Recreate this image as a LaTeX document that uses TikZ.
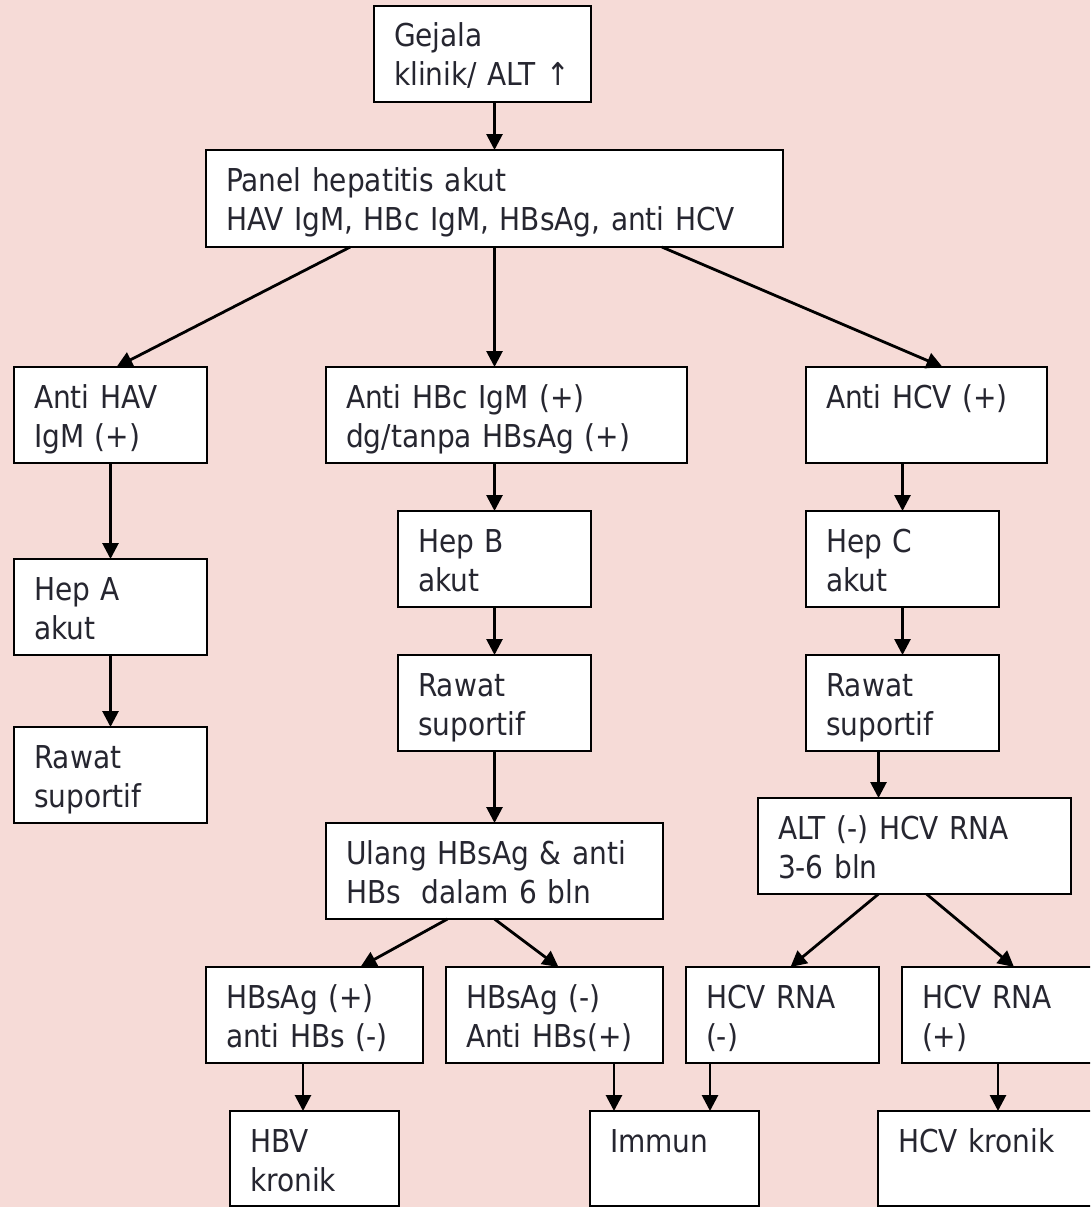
\documentclass[tikz,border=0pt]{standalone}
\usepackage{fontspec}
\setmainfont{DejaVu Sans}[FakeStretch=0.89]
\usetikzlibrary{arrows.meta,calc,positioning}

\definecolor{latar}{RGB}{246,219,215}
\definecolor{teks}{RGB}{38,38,48}

\tikzset{
  kotak/.style={draw, line width=2.7pt, fill=white, anchor=north west,
    inner xsep=20pt, inner ysep=0pt, outer sep=0pt, align=left, text=teks,
    font=\fontsize{31.5}{39}\selectfont, text height=41pt, text depth=55pt},
  panah/.style={line width=2.8pt, -{Triangle[length=16pt,width=16pt]}}
}

\begin{document}
\begin{tikzpicture}[x=1pt,y=-1pt]
\useasboundingbox (0,0) rectangle (1090,1207);
\fill[latar] (0,0) rectangle (1090,1207);
\clip (0,0) rectangle (1090,1207);

% baris atas
\node[kotak, text width=177pt] (gejala) at (374,6) {Gejala\\klinik/ ALT ↑};
\node[kotak, text width=537pt, text depth=56pt] (panel) at (206,150) {Panel hepatitis akut\\HAV IgM, HBc IgM, HBsAg, anti HCV};

% hepatitis A
\node[kotak, text width=153pt] (antiHAV) at (14,367) {Anti HAV\\IgM (+)};
\node[kotak, text width=153pt] (hepA) at (14,559) {Hep A\\akut};
\node[kotak, text width=153pt] (rawatA) at (14,727) {Rawat\\suportif};

% hepatitis B
\node[kotak, text width=321pt] (antiHBc) at (326,367) {Anti HBc IgM (+)\\dg/tanpa HBsAg (+)};
\node[kotak, text width=153pt] (hepB) at (398,511) {Hep B\\akut};
\node[kotak, text width=153pt] (rawatB) at (398,655) {Rawat\\suportif};
\node[kotak, text width=297pt] (ulang) at (326,823) {Ulang HBsAg \& anti\\HBs\ \ dalam 6 bln};
\node[kotak, text width=177pt] (hbsPos) at (206,967) {HBsAg (+)\\anti HBs (-)};
\node[kotak, text width=177pt] (hbsNeg) at (446,967) {HBsAg (-)\\Anti HBs(+)};
\node[kotak, text width=129pt, text depth=54pt] (hbv) at (230,1111) {HBV\\kronik};
\node[kotak, text width=129pt, text depth=54pt] (immun) at (590,1111) {Immun};

% hepatitis C
\node[kotak, text width=201pt] (antiHCV) at (806,367) {Anti HCV (+)};
\node[kotak, text width=153pt] (hepC) at (806,511) {Hep C\\akut};
\node[kotak, text width=153pt] (rawatC) at (806,655) {Rawat\\suportif};
\node[kotak, text width=273pt] (alt) at (758,798) {ALT (-) HCV RNA\\3-6 bln};
\node[kotak, text width=153pt] (rnaNeg) at (686,967) {HCV RNA\\(-)};
\node[kotak, text width=184pt] (rnaPos) at (902,967) {HCV RNA\\(+)};
\node[kotak, text width=192pt, text depth=54pt] (hcvKronik) at (878,1111) {HCV kronik};

% titik pangkal panah
\coordinate (pA) at ($(panel.south west)!0.25!(panel.south east)$);
\coordinate (pC) at ($(panel.south west)!0.79!(panel.south east)$);
\coordinate (rC) at ([xshift=-24pt]rawatC.south);
\coordinate (hP) at ([xshift=-11.5pt]hbsPos.south);
\coordinate (hN) at ([xshift=59.5pt]hbsNeg.south);
\coordinate (rN) at ([xshift=-72.5pt]rnaNeg.south);
\coordinate (rP) at ([xshift=-16pt]rnaPos.south);

% panah
\draw[panah] (gejala.south -| panel.north) -- (panel.north);
\draw[panah] (pA) -- ([xshift=6pt]antiHAV.north);
\draw[panah] (panel.south) -- (panel.south |- antiHBc.north);
\draw[panah] (pC) -- ([xshift=16pt]antiHCV.north);

\draw[panah] (antiHAV.south) -- (hepA.north);
\draw[panah] (hepA.south) -- (rawatA.north);

\draw[panah] (antiHBc.south -| hepB.north) -- (hepB.north);
\draw[panah] (hepB.south) -- (rawatB.north);
\draw[panah] (rawatB.south) -- (ulang.north);
\draw[panah] ([xshift=-47pt]ulang.south) -- ([xshift=46pt]hbsPos.north);
\draw[panah] (ulang.south) -- ([xshift=4pt]hbsNeg.north);
\draw[panah] (hP) -- (hP |- hbv.north);
\draw[panah] (hN) -- (hN |- immun.north);

\draw[panah] (antiHCV.south -| hepC.north) -- (hepC.north);
\draw[panah] (hepC.south) -- (rawatC.north);
\draw[panah] (rC) -- (rC |- alt.north);
\draw[panah] ([xshift=-36pt]alt.south) -- ([xshift=8pt]rnaNeg.north);
\draw[panah] ([xshift=12pt]alt.south) -- (rnaPos.north);
\draw[panah] (rN) -- (rN |- immun.north);
\draw[panah] (rP) -- (rP |- hcvKronik.north);
\end{tikzpicture}
\end{document}
